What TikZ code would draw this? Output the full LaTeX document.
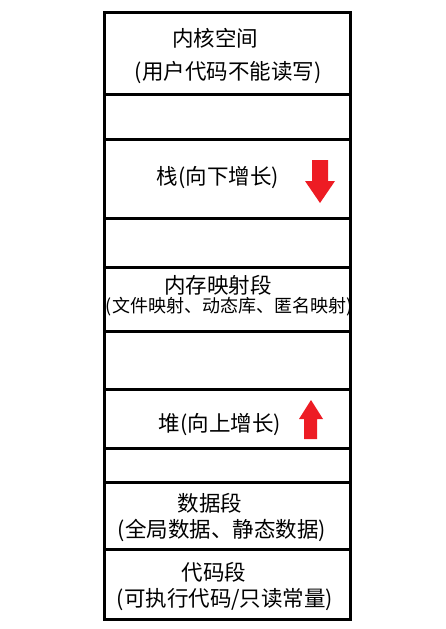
\documentclass[tikz,border=0pt]{standalone}
\usepackage{fontspec}
\setmainfont{Noto Sans CJK SC}
\definecolor{arrowred}{RGB}{237,28,36}
\newcommand{\bigtxt}{\fontsize{21.5}{25}\selectfont}
\newcommand{\smalltxt}{\fontsize{18}{21}\selectfont}

\begin{document}
\begin{tikzpicture}[x=1pt,y=-1pt]
                \useasboundingbox (0,0) rectangle (445,629);
                \node (kernel) at (215,38) {\bigtxt 内核空间};
                \node (kernelnote) at (228,73) {\bigtxt (用户代码不能读写)};
                \node (stack) at (218,178) {\bigtxt 栈(向下增长)};
                \node (mmap) at (218,285) {\bigtxt 内存映射段};
                \node (mmapnote) at (229,307) {\smalltxt (文件映射、动态库、匿名映射)};
                \node (heap) at (220,425) {\bigtxt 堆(向上增长)};
                \node (data) at (210,503) {\bigtxt 数据段};
                \node (datanote) at (222,530) {\bigtxt (全局数据、静态数据)};
                \node (code) at (214,572) {\bigtxt 代码段};
                \node (codenote) at (225,600) {\bigtxt (可执行代码/只读常量)};
                % growth arrows
                \fill[arrowred] (312,160)--(328,160)--(328,181)--(335,181)--(320,203)--(305,181)--(312,181)--cycle;
                \fill[arrowred] (304,439)--(317,439)--(317,419)--(323,419)--(311,400)--(299,419)--(304,419)--cycle;
                % memory layout frame
                \draw[line width=3pt] (104,12) rectangle (350,619);
                \foreach \y in {94,139,218,267,331,389,448,482,549}
                    \draw[line width=3pt] (104,\y)--(350,\y);
            \end{tikzpicture}
\end{document}
